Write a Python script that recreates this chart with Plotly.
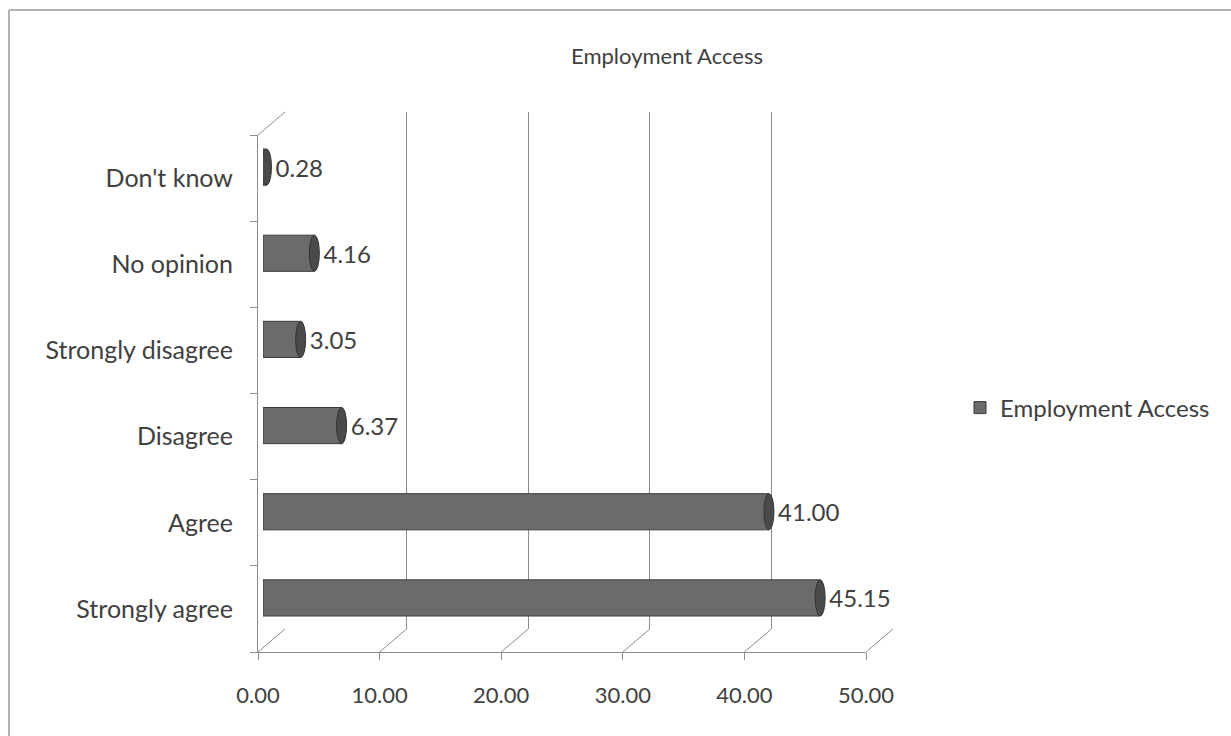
import plotly.graph_objects as go

categories = ["Strongly agree", "Agree", "Disagree", "Strongly disagree", "No opinion", "Don't know"]
values = [45.15, 41.00, 6.37, 3.05, 4.16, 0.28]
value_labels = ["45.15", "41.00", "6.37", "3.05", "4.16", "0.28"]
x_ticks = [0, 10, 20, 30, 40, 50]
x_tick_labels = ["0.00", "10.00", "20.00", "30.00", "40.00", "50.00"]
series_name = "Employment Access"
title_text = "Employment Access"

W, H = 1231, 736
FONT = "Lato"
TXT = "#404040"
GRID = "#8c8c8c"

def px(x):
    return x / W

def py(y):
    return 1 - y / H

# front plane
fx0, fx1, fy0, fy1 = 258, 866, 135, 652
# depth offset
dx, dy = 27, 23
# bar plane (mid depth)
bx0, bx1, by = 263, 880, 11

xmax = 50

fig = go.Figure()

# invisible anchor traces so front and back axes are drawn
for xa, ya in (("x", "y"), ("x2", "y2")):
    fig.add_trace(go.Scatter(x=[0] * len(categories), y=categories, mode="markers",
                             marker=dict(opacity=0, size=1), showlegend=False,
                             hoverinfo="skip", xaxis=xa, yaxis=ya))

fig.add_trace(go.Bar(
    y=categories, x=values, orientation="h",
    name=series_name,
    marker=dict(color="#6b6b6b", line=dict(color="#3c3c3c", width=1)),
    text=value_labels, texttemplate=" %{text}", textposition="outside",
    textfont=dict(family=FONT, size=24, color=TXT),
    cliponaxis=False,
    width=0.42,
    xaxis="x3", yaxis="y3",
))

common_y = dict(type="category", categoryorder="array", categoryarray=categories, range=[-0.5, 5.5])

fig.update_layout(
    width=W, height=H,
    margin=dict(l=0, r=0, t=0, b=0, autoexpand=False),
    paper_bgcolor="white", plot_bgcolor="rgba(0,0,0,0)",
    font=dict(family=FONT, color=TXT),
    title=dict(text=title_text, x=667 / W, xanchor="center", y=py(56), yanchor="middle",
               font=dict(family=FONT, size=22, color=TXT)),
    showlegend=True,
    legend=dict(x=px(960), xanchor="left", y=py(408), yanchor="middle",
                font=dict(family=FONT, size=24, color=TXT), bgcolor="rgba(0,0,0,0)"),
    bargap=0.5,
    # front axes
    xaxis=dict(domain=[px(fx0), px(fx1)], range=[0, xmax], tickvals=x_ticks, ticktext=x_tick_labels,
               showgrid=False, zeroline=False, showline=True, linecolor=GRID, linewidth=1,
               ticks="outside", ticklen=7, tickcolor=GRID, automargin=False,
               ticklabelstandoff=17,
               tickfont=dict(family=FONT, size=22, color=TXT), anchor="y"),
    yaxis=dict(domain=[py(fy1), py(fy0)], **common_y, showgrid=False, zeroline=False,
               showline=True, linecolor=GRID, linewidth=1, ticks="outside", ticklen=7,
               tickcolor=GRID, tickson="boundaries", automargin=False,
               tickfont=dict(family=FONT, size=25, color=TXT), anchor="x", ticklabelstandoff=19),
    # back plane gridlines
    xaxis2=dict(domain=[px(fx0 + dx), px(fx1 + dx)], range=[0, xmax], tickvals=x_ticks,
                showticklabels=False, showgrid=True, gridcolor=GRID, gridwidth=1, zeroline=False,
                ticks="", anchor="y2"),
    yaxis2=dict(domain=[py(fy1 - dy), py(fy0 - dy)], **common_y, showgrid=False, zeroline=False,
                showticklabels=False, ticks="", anchor="x2"),
    # bars
    xaxis3=dict(domain=[px(bx0), px(bx1)], range=[0, xmax], showticklabels=False,
                showgrid=False, zeroline=False, ticks="", anchor="y3"),
    yaxis3=dict(domain=[py(fy1 - by), py(fy0 - by)], **common_y, showgrid=False, zeroline=False,
                showticklabels=False, ticks="", anchor="x3"),
)

shapes = []
# depth connectors at bottom for each x tick, and top-left
front_w = fx1 - fx0
for v in x_ticks:
    xf = fx0 + v / xmax * front_w
    shapes.append(dict(type="line", xref="paper", yref="paper",
                       x0=px(xf), y0=py(fy1), x1=px(xf + dx), y1=py(fy1 - dy),
                       line=dict(color=GRID, width=1)))
shapes.append(dict(type="line", xref="paper", yref="paper",
                   x0=px(fx0), y0=py(fy0), x1=px(fx0 + dx), y1=py(fy0 - dy),
                   line=dict(color=GRID, width=1)))

# cylinder caps
half_h = 0.21
for i, (c, v) in enumerate(zip(categories, values)):
    shapes.append(dict(type="circle", xref="x3", yref="y3", xsizemode="pixel", xanchor=0,
                       x0=-5, x1=5, y0=i - half_h, y1=i + half_h,
                       fillcolor="#6b6b6b", line=dict(color="#3c3c3c", width=1), layer="below"))
    shapes.append(dict(type="circle", xref="x3", yref="y3", xsizemode="pixel", xanchor=v,
                       x0=-5, x1=5, y0=i - half_h, y1=i + half_h,
                       fillcolor="#4a4a4a", line=dict(color="#333333", width=1), layer="above"))

# outer frame (top and left edges)
shapes.append(dict(type="line", xref="paper", yref="paper", x0=px(9), x1=1, y0=py(10), y1=py(10),
                   line=dict(color="#b4b4b4", width=2)))
shapes.append(dict(type="line", xref="paper", yref="paper", x0=px(9), x1=px(9), y0=0, y1=py(10),
                   line=dict(color="#b4b4b4", width=2)))

fig.update_layout(shapes=shapes)

fig.write_html("out.html")
